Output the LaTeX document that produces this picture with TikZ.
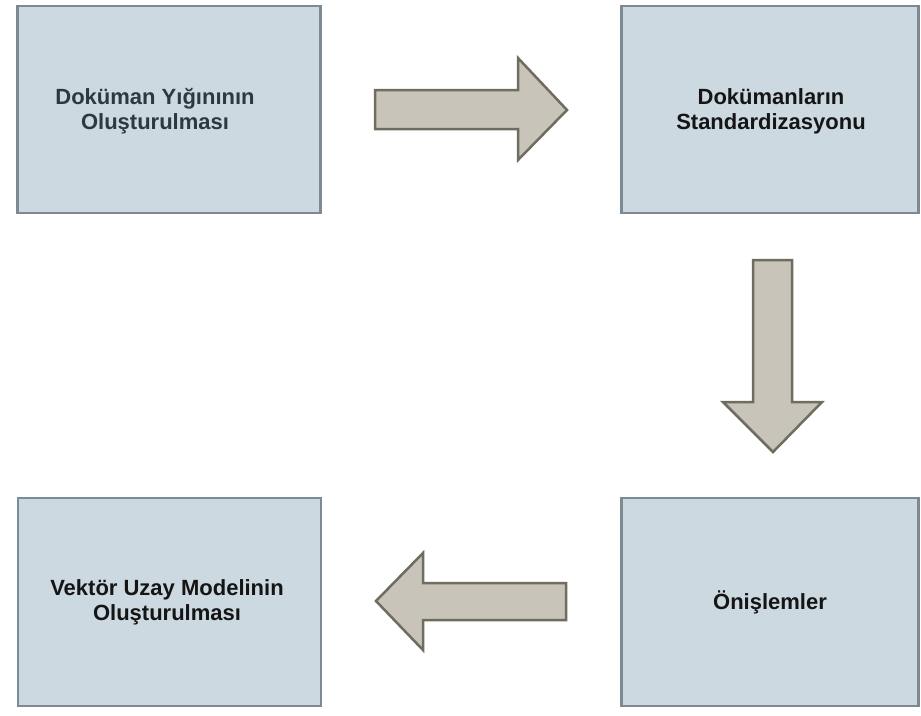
\documentclass[tikz,border=0pt]{standalone}
\usepackage{fontspec}
\setmainfont{Liberation Sans}
\definecolor{boxfill}{HTML}{CDD9E1}
\definecolor{boxline}{HTML}{7D8A92}
\definecolor{arrfill}{HTML}{C9C4B9}
\definecolor{arrline}{HTML}{6F6C60}
\definecolor{txtgrey}{HTML}{2E383E}
\definecolor{txtdark}{HTML}{151515}
\begin{document}
\begin{tikzpicture}[x=1pt,y=-1pt,
  stagebox/.style={draw=boxline, fill=boxfill, line width=2.5pt, rectangle, inner sep=0pt,
    minimum width=301pt, minimum height=207pt},
  stagetext/.style={font=\bfseries\fontsize{22}{25}\selectfont, align=center, text=txtdark},
  blockarrow/.style={draw=arrline, fill=arrfill, line width=2.5pt, line join=miter}]
\useasboundingbox (0,0) rectangle (921,715);
\fill[white] (0,0) rectangle (921,715);
% boxes
\node[stagebox, minimum width=303pt] (b1) at (169,109.5) {};
\node[stagebox, minimum width=297pt] (b2) at (770,109.5) {};
\node[stagebox, minimum width=297pt, minimum height=208pt] (b3) at (770,602) {};
\node[stagebox, minimum width=303pt, minimum height=208pt] (b4) at (169.5,602) {};
% texts
\node[stagetext, text=txtgrey] (t1) at (155,111) {Doküman Yığınının\\Oluşturulması};
\node[stagetext] (t2) at (771,111) {Dokümanların\\Standardizasyonu};
\node[stagetext] (t3) at (770,602) {Önişlemler};
\node[stagetext] (t4) at (167,602) {Vektör Uzay Modelinin\\Oluşturulması};
% block arrows
\draw[blockarrow] (375,90) -- (518,90) -- (518,58) -- (567,110) -- (518,160) -- (518,129) -- (375,129) -- cycle;
\draw[blockarrow] (753,260) -- (792,260) -- (792,402) -- (822,402) -- (773,452) -- (723,402) -- (753,402) -- cycle;
\draw[blockarrow] (566,583) -- (423,583) -- (423,553) -- (376,601) -- (423,650) -- (423,620) -- (566,620) -- cycle;
\end{tikzpicture}
\end{document}
